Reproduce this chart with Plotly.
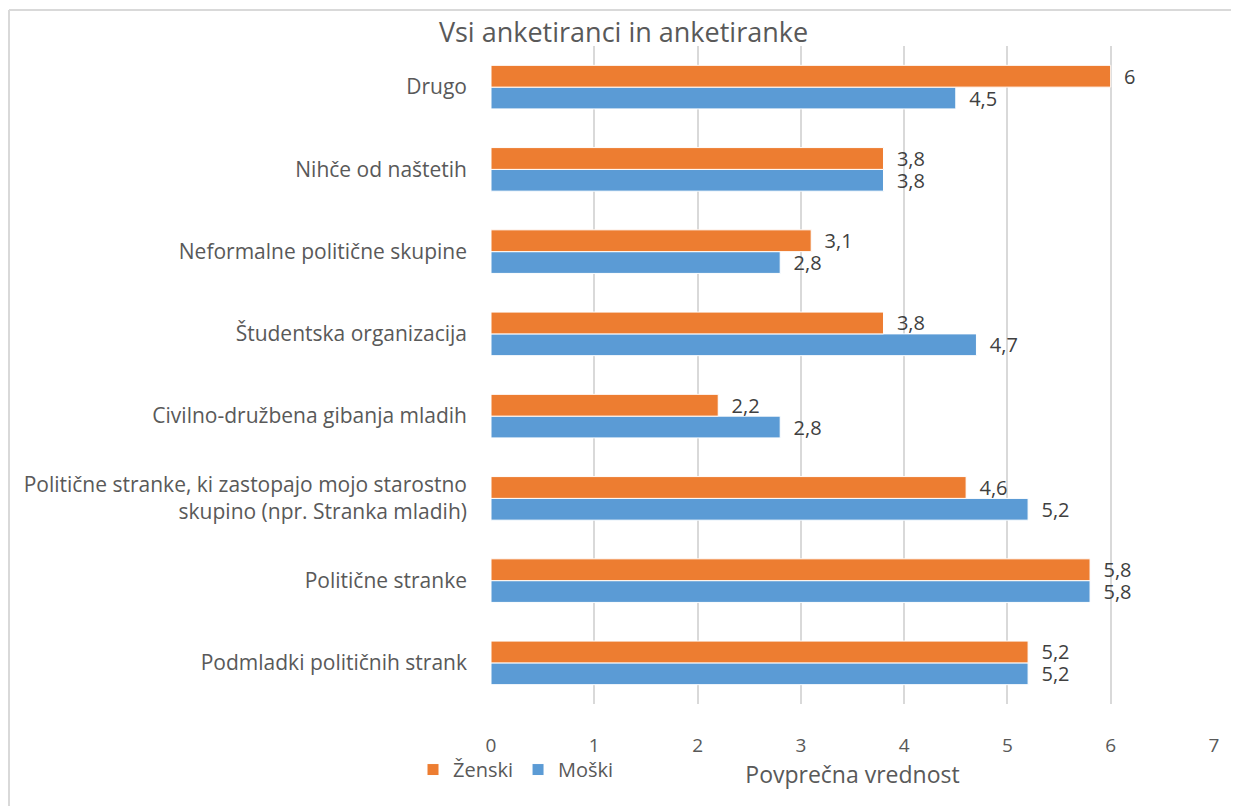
import plotly.graph_objects as go

categories = [
    "Podmladki političnih strank",
    "Politične stranke",
    "Politične stranke, ki zastopajo mojo starostno<br>skupino (npr. Stranka mladih)",
    "Civilno-družbena gibanja mladih",
    "Študentska organizacija",
    "Neformalne politične skupine",
    "Nihče od naštetih",
    "Drugo",
]
zenski = [5.2, 5.8, 4.6, 2.2, 3.8, 3.1, 3.8, 6]
moski = [5.2, 5.8, 5.2, 2.8, 4.7, 2.8, 3.8, 4.5]
x_ticks = [0, 1, 2, 3, 4, 5, 6, 7]

FONT = "Open Sans"
TXT = "#595959"

# page has an 8px body margin, so the figure is a bit smaller than the window
W, H = 1231, 798
L, R, T, B = 483, 25, 38, 102
PW, PH = W - L - R, H - T - B


def fmt(v):
    return "\u00a0\u00a0" + f"{v:g}".replace(".", ",")


fig = go.Figure()
# Moški first so that Ženski sits above it in each group
fig.add_trace(go.Bar(
    y=categories, x=moski, orientation="h", name="Moški",
    marker=dict(color="#5B9BD5", line=dict(color="white", width=1)),
    text=[fmt(v) for v in moski], textposition="outside", constraintext="none",
    textfont=dict(size=20, color="#404040", family=FONT), cliponaxis=False,
))
fig.add_trace(go.Bar(
    y=categories, x=zenski, orientation="h", name="Ženski",
    marker=dict(color="#ED7D31", line=dict(color="white", width=1)),
    text=[fmt(v) for v in zenski], textposition="outside", constraintext="none",
    textfont=dict(size=20, color="#404040", family=FONT), cliponaxis=False,
))

# outer chart border (only top/left visible in the crop)
bx = (1 - L) / PW
by = (H - B - 2) / PH
fig.add_shape(type="line", xref="paper", yref="paper", x0=bx, x1=2, y0=by, y1=by,
              line=dict(color="#d9d9d9", width=2))
fig.add_shape(type="line", xref="paper", yref="paper", x0=bx, x1=bx, y0=-2, y1=by,
              line=dict(color="#d9d9d9", width=2))

fig.update_layout(
    width=W, height=H,
    paper_bgcolor="white", plot_bgcolor="white",
    font=dict(family=FONT, color=TXT, size=20),
    title=dict(text="Vsi anketiranci in anketiranke", x=0.5, xref="container",
               y=1 - 25/H, yanchor="middle", font=dict(size=27, color=TXT)),
    barmode="group", bargap=0.47, bargroupgap=0,
    margin=dict(l=L, r=R, t=T, b=B),
    xaxis=dict(range=[0, 7], tickvals=x_ticks, showgrid=True, gridcolor="#d9d9d9",
               gridwidth=2, zeroline=False, showline=False, ticks="",
               ticklabelstandoff=28, tickfont=dict(size=19, color=TXT),
               title=dict(text="Povprečna vrednost", standoff=0,
                          font=dict(size=23, color=TXT))),
    yaxis=dict(showgrid=False, zeroline=False, showline=False, ticks="",
               ticklabelstandoff=23, tickfont=dict(size=21, color=TXT)),
    showlegend=True,
    legend=dict(orientation="h", traceorder="reversed", x=-78/PW, xanchor="left",
                y=-0.07, yanchor="top", font=dict(size=20, color=TXT),
                itemwidth=30, tracegroupgap=0, bgcolor="rgba(0,0,0,0)"),
)

fig.write_html("out.html")
